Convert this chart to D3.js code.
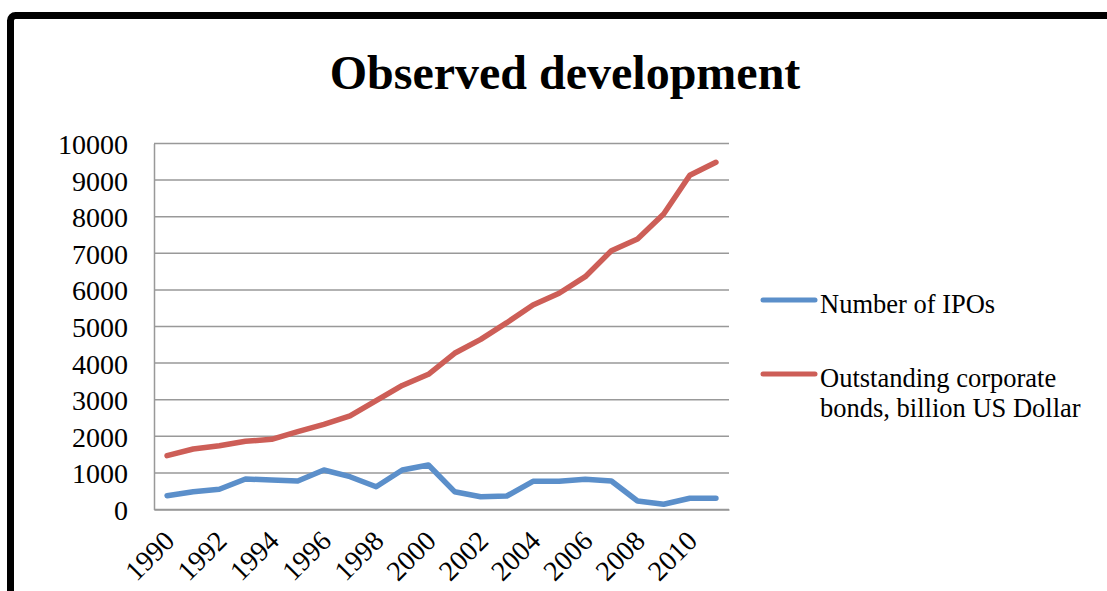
<!DOCTYPE html>
<html>
<head>
<meta charset="utf-8">
<script src="https://cdn.jsdelivr.net/npm/d3@7"></script>
<style>
  html, body { margin: 0; padding: 0; background: #fff; }
  svg { display: block; }
</style>
</head>
<body>
<svg id="chart" width="1107" height="591"></svg>
<script>
// Years on the category axis
const years = [1990, 1991, 1992, 1993, 1994, 1995, 1996, 1997, 1998, 1999, 2000,
               2001, 2002, 2003, 2004, 2005, 2006, 2007, 2008, 2009, 2010, 2011];

// Number of IPOs per year
const ipos = [377, 487, 552, 833, 806, 779, 1079, 896, 623, 1079, 1216,
              487, 350, 369, 770, 770, 825, 779, 232, 142, 306, 306];

// Outstanding corporate bonds, billion US Dollar
const bonds = [1470, 1653, 1743, 1863, 1918, 2126, 2328, 2555, 2973, 3390, 3694,
               4268, 4650, 5104, 5587, 5907, 6361, 7071, 7391, 8074, 9131, 9486];

const yTicks = [0, 1000, 2000, 3000, 4000, 5000, 6000, 7000, 8000, 9000, 10000];
const seriesNames = ["Number of IPOs", "Outstanding corporate bonds, billion US Dollar"];
const seriesColors = ["#5B8FCA", "#CD5E57"];

const svg = d3.select("#chart");

// Outer frame (only the top and left edges fall inside the view)
svg.append("rect")
  .attr("x", 10.5).attr("y", 15.5)
  .attr("width", 1300).attr("height", 800)
  .attr("rx", 5)
  .attr("fill", "#fff")
  .attr("stroke", "#000")
  .attr("stroke-width", 7);

// Title
svg.append("text")
  .attr("x", 565).attr("y", 89)
  .attr("text-anchor", "middle")
  .attr("font-family", "'Liberation Serif', 'Times New Roman', serif")
  .attr("font-weight", "bold")
  .attr("font-size", 48)
  .text("Observed development");

const plot = { left: 154, right: 729, top: 143.5, bottom: 509.5 };

const x = d3.scaleBand().domain(years).range([plot.left, plot.right]);
const y = d3.scaleLinear().domain([0, 10000]).range([plot.bottom, plot.top]);

const g = svg.append("g");

// Horizontal gridlines
g.append("g")
  .selectAll("line")
  .data(yTicks)
  .join("line")
  .attr("x1", plot.left).attr("x2", plot.right)
  .attr("y1", d => y(d)).attr("y2", d => y(d))
  .attr("stroke", "#999")
  .attr("stroke-width", 1.5);

// Value axis
const yAxis = g.append("g")
  .attr("transform", `translate(${plot.left},0)`)
  .call(d3.axisLeft(y).tickValues(yTicks).tickSize(0).tickPadding(26).tickFormat(d3.format("d")));
yAxis.select(".domain").attr("stroke", "#999").attr("stroke-width", 1.5);
yAxis.selectAll("text")
  .attr("font-family", "'Liberation Serif', 'Times New Roman', serif")
  .attr("font-size", 28)
  .attr("fill", "#000")
  .attr("dy", "0.36em");

// Category axis
const xAxis = g.append("g")
  .attr("transform", `translate(0,${plot.bottom})`)
  .call(d3.axisBottom(x).tickSize(0).tickFormat(d => (d - 1990) % 2 === 0 ? d : ""));
xAxis.select(".domain").attr("stroke", "#999").attr("stroke-width", 1.5);
xAxis.selectAll("text")
  .attr("font-family", "'Liberation Serif', 'Times New Roman', serif")
  .attr("font-size", 28)
  .attr("fill", "#000")
  .attr("text-anchor", "end")
  .attr("dy", 0)
  .attr("transform", "translate(7,31) rotate(-45)");

// Series lines
const line = d3.line()
  .x((d, i) => x(years[i]) + x.bandwidth() / 2)
  .y(d => y(d));

[ipos, bonds].forEach((vals, i) => {
  g.append("path")
    .datum(vals)
    .attr("fill", "none")
    .attr("stroke", seriesColors[i])
    .attr("stroke-width", 5.5)
    .attr("stroke-linejoin", "round")
    .attr("stroke-linecap", "round")
    .attr("d", line);
});

// Legend
const legend = svg.append("g");
const legendRows = [
  { y: 300, lines: ["Number of IPOs"] },
  { y: 374, lines: ["Outstanding corporate", "bonds, billion US Dollar"] }
];
legendRows.forEach((row, i) => {
  legend.append("line")
    .attr("x1", 763).attr("x2", 815)
    .attr("y1", row.y).attr("y2", row.y)
    .attr("stroke", seriesColors[i])
    .attr("stroke-width", 5)
    .attr("stroke-linecap", "round");
  const t = legend.append("text")
    .attr("x", 820).attr("y", row.y + 13)
    .attr("font-family", "'Liberation Serif', 'Times New Roman', serif")
    .attr("font-size", 26.5)
    .attr("fill", "#000");
  row.lines.forEach((s, k) => {
    t.append("tspan").attr("x", 820).attr("dy", k === 0 ? 0 : 30).text(s);
  });
});
</script>
</body>
</html>
